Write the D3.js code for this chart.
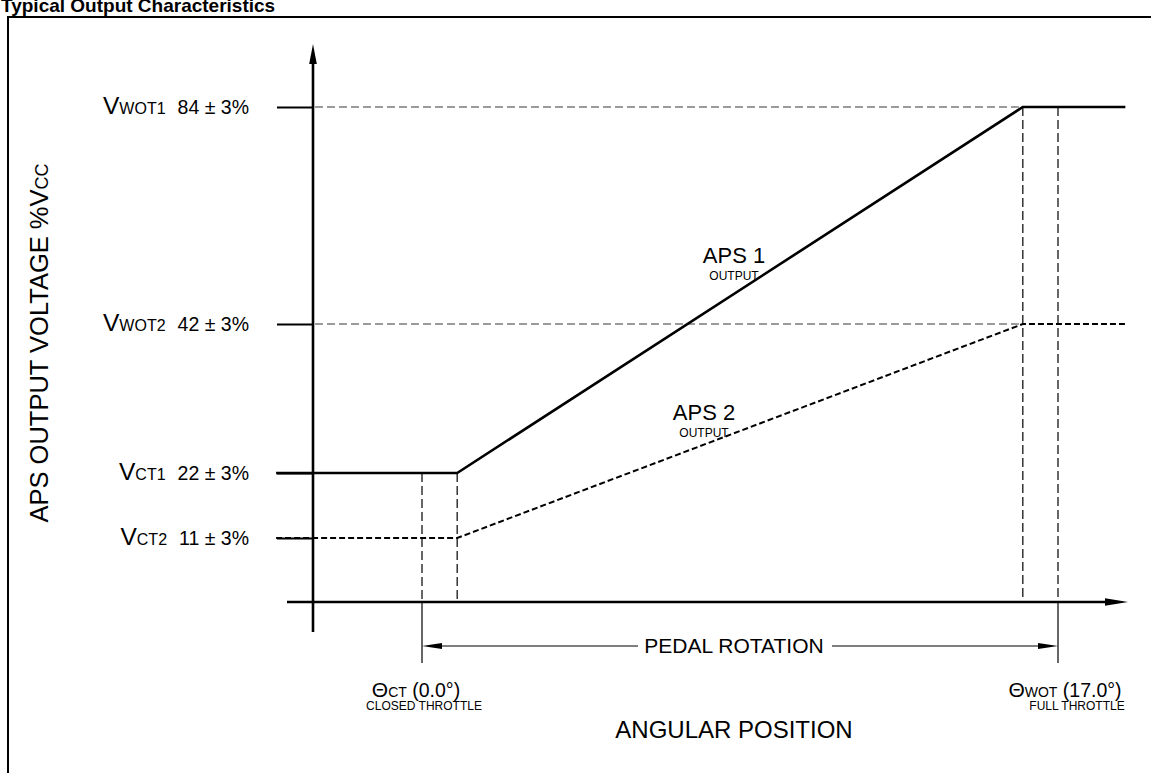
<!DOCTYPE html>
<html><head><meta charset="utf-8">
<script src="https://cdn.jsdelivr.net/npm/d3@7"></script>
<style>
body{margin:0;background:#fff}
svg{display:block}
text{font-family:"Liberation Sans",Arial,Helvetica,sans-serif;fill:#000}
</style>
</head><body>
<svg id="c" width="1151" height="773"></svg>
<script>
// ---- data ----
const title = "Typical Output Characteristics";
const levelNames = ["WOT1", "WOT2", "CT1", "CT2"];
const levelValues = [84, 42, 22, 11];
const levelTolerance = "± 3%";
const angleNames = ["CT", "WOT"];
const angleValues = [0, 17];
const angleNotes = ["CLOSED THROTTLE", "FULL THROTTLE"];
const bendAngles = [0.94, 16.06];
const aps1Angle = [-3.9, 0.94, 16.06, 18.8];
const aps1Value = [22, 22, 84, 84];
const aps2Angle = [-3.9, 0.94, 16.06, 18.8];
const aps2Value = [11, 11, 42, 42];
const seriesLabels = ["APS 1", "APS 2"];
const seriesSub = "OUTPUT";
const xTitle = "ANGULAR POSITION";
const dimLabel = "PEDAL ROTATION";

// ---- scales ----
const svg = d3.select("#c");
const x = d3.scaleLinear().domain([0, 17]).range([422, 1058]);
const y = d3.scaleLinear().domain([0, 11, 22, 42, 84]).range([602, 538, 473, 324, 107]);
const x0 = 313; // y-axis position

// frame and title
svg.append("path").attr("d", "M8,773V17H1151").attr("fill", "none").attr("stroke", "#000").attr("stroke-width", 2);
svg.append("text").attr("x", 1).attr("y", 12).attr("font-size", 19).attr("font-weight", "bold").text(title);

// gray dashed reference lines for WOT levels
const wot = [levelValues[0], levelValues[1]];
svg.selectAll("line.ref").data(wot).join("line").attr("class", "ref")
  .attr("x1", x0 + 2).attr("x2", x(bendAngles[1]))
  .attr("y1", d => y(d)).attr("y2", d => y(d))
  .attr("stroke", "#7a7a7a").attr("stroke-width", 1.3).attr("stroke-dasharray", "8,4");

// vertical dashed lines at bends and angle marks
const vLines = [
  {a: angleValues[0], top: levelValues[2]},
  {a: bendAngles[0], top: levelValues[2]},
  {a: bendAngles[1], top: levelValues[0]},
  {a: angleValues[1], top: levelValues[0]}
];
svg.selectAll("line.vd").data(vLines).join("line").attr("class", "vd")
  .attr("x1", d => x(d.a)).attr("x2", d => x(d.a))
  .attr("y1", d => y(d.top)).attr("y2", y(0))
  .attr("stroke", "#000").attr("stroke-width", 1.2).attr("stroke-dasharray", "9,4");

// extension lines below axis
svg.selectAll("line.ext").data(angleValues).join("line").attr("class", "ext")
  .attr("x1", d => x(d)).attr("x2", d => x(d))
  .attr("y1", y(0)).attr("y2", y(0) + 61)
  .attr("stroke", "#000").attr("stroke-width", 1.2);

// y-axis ticks via d3 axis
const yAxis = d3.axisLeft(y).tickValues(levelValues).tickSize(36).tickFormat("");
const gy = svg.append("g").attr("transform", `translate(${x0},0)`).call(yAxis);
gy.select(".domain").remove();
gy.selectAll(".tick line").attr("stroke", "#000").attr("stroke-width", 2);

// axis lines
svg.append("line").attr("x1", x0).attr("x2", x0).attr("y1", y(84) - 50).attr("y2", y(0) + 30)
  .attr("stroke", "#000").attr("stroke-width", 2.6);
svg.append("path").attr("d", `M${x0},${y(84) - 63}L${x0 - 3.8},${y(84) - 43}L${x0 + 3.8},${y(84) - 43}Z`).attr("fill", "#000");
svg.append("line").attr("x1", x0 - 26).attr("x2", x(17) + 55).attr("y1", y(0)).attr("y2", y(0))
  .attr("stroke", "#000").attr("stroke-width", 2.6);
svg.append("path").attr("d", `M${x(17) + 70},${y(0)}L${x(17) + 47},${y(0) - 3.8}L${x(17) + 47},${y(0) + 3.8}Z`).attr("fill", "#000");

// series lines
const line = d3.line().x(d => x(d[0])).y(d => y(d[1]));
svg.append("path").datum(d3.zip(aps1Angle, aps1Value)).attr("d", line)
  .attr("fill", "none").attr("stroke", "#000").attr("stroke-width", 2.6);
svg.append("path").datum(d3.zip(aps2Angle, aps2Value)).attr("d", line)
  .attr("fill", "none").attr("stroke", "#000").attr("stroke-width", 2).attr("stroke-dasharray", "6,3");

// level labels
const lab = svg.selectAll("text.lv").data(levelNames).join("text").attr("class", "lv")
  .attr("x", 249).attr("y", (d, i) => y(levelValues[i]) + 7).attr("text-anchor", "end");
lab.append("tspan").attr("font-size", 24.5).text("V");
lab.append("tspan").attr("font-size", 16).text(d => d);
lab.append("tspan").attr("font-size", 19.5).attr("dx", 12).text((d, i) => `${levelValues[i]} ${levelTolerance}`);

// y title
const yt = svg.append("text").attr("transform", "translate(48,343) rotate(-90)").attr("text-anchor", "middle").attr("font-size", 25.5);
yt.append("tspan").text("APS OUTPUT VOLTAGE %V");
yt.append("tspan").attr("font-size", 18).text("CC");

// series labels
const sl = [{t: seriesLabels[0], cx: 734, by: 263}, {t: seriesLabels[1], cx: 704, by: 420}];
sl.forEach(s => {
  svg.append("text").attr("x", s.cx).attr("y", s.by).attr("text-anchor", "middle").attr("font-size", 22).text(s.t);
  svg.append("text").attr("x", s.cx).attr("y", s.by + 17).attr("text-anchor", "middle").attr("font-size", 12).text(seriesSub);
});

// pedal rotation dimension
const dimY = y(0) + 44;
svg.append("line").attr("x1", x(0) + 10).attr("x2", 638).attr("y1", dimY).attr("y2", dimY).attr("stroke", "#000").attr("stroke-width", 1.2);
svg.append("line").attr("x1", 832).attr("x2", x(17) - 10).attr("y1", dimY).attr("y2", dimY).attr("stroke", "#000").attr("stroke-width", 1.2);
svg.append("path").attr("d", `M${x(0)},${dimY}L${x(0) + 20},${dimY - 3}L${x(0) + 20},${dimY + 3}Z`).attr("fill", "#000");
svg.append("path").attr("d", `M${x(17)},${dimY}L${x(17) - 20},${dimY - 3}L${x(17) - 20},${dimY + 3}Z`).attr("fill", "#000");
svg.append("text").attr("x", 734).attr("y", dimY + 7).attr("text-anchor", "middle").attr("font-size", 21).text(dimLabel);

// angle labels
const angPos = [{cx: 416, nx: 424}, {cx: 1065, nx: 1077}];
angleNames.forEach((n, i) => {
  const t = svg.append("text").attr("x", angPos[i].cx).attr("y", 697).attr("text-anchor", "middle").attr("font-size", 19.5);
  t.append("tspan").attr("font-size", 21).text("Θ");
  t.append("tspan").attr("font-size", 14).text(n);
  t.append("tspan").text(` (${angleValues[i].toFixed(1)}°)`);
  svg.append("text").attr("x", angPos[i].nx).attr("y", 710).attr("text-anchor", "middle").attr("font-size", 12).text(angleNotes[i]);
});

svg.append("text").attr("x", 734).attr("y", 738).attr("text-anchor", "middle").attr("font-size", 24).text(xTitle);
</script>
</body></html>
